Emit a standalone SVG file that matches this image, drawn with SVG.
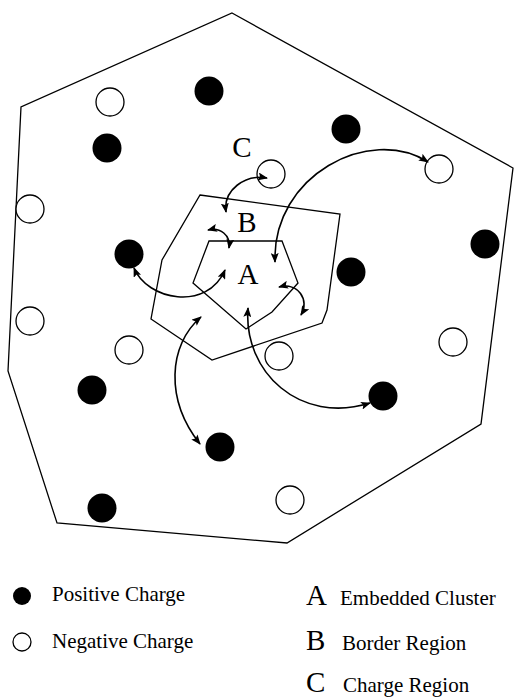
<svg xmlns="http://www.w3.org/2000/svg" width="514" height="698" viewBox="0 0 514 698">
<defs>
<style>
.poly{fill:none;stroke:#000;stroke-width:1.3}
.pos{fill:#000}
.neg{fill:#fff;stroke:#000;stroke-width:1.3}
.arr{fill:none;stroke:#000;stroke-width:1.6;marker-start:url(#ah);marker-end:url(#ah)}
.big{font-family:"Liberation Serif",serif;font-size:29px;fill:#000}
.lg{font-family:"Liberation Serif",serif;font-size:21px;fill:#000}
</style>
<marker id="ah" viewBox="0 0 10 8" refX="9" refY="4" markerWidth="10" markerHeight="8" markerUnits="userSpaceOnUse" orient="auto-start-reverse">
<path d="M0,0 L10,4 L0,8 L2,4 Z" fill="#000"/>
</marker>
</defs>
<rect width="514" height="698" fill="#fff"/>
<g id="regions">
<polygon id="outer" class="poly" points="232,13 513,168 481,424 287,543 57,523 8,371 21,107"/>
<polygon id="regionB" class="poly" points="200,195 340,214 327,310 322,323 212,360 151,319 162,260"/>
<polygon id="regionA" class="poly" points="209,241 282,241 298,283 272,312 246,329 193,283"/>
</g>
<g id="charges">
<circle class="pos" cx="209" cy="91" r="14.5"/>
<circle class="pos" cx="346" cy="129" r="14.5"/>
<circle class="pos" cx="107" cy="148" r="14.5"/>
<circle class="pos" cx="129" cy="254" r="14.5"/>
<circle class="pos" cx="485" cy="244" r="14.5"/>
<circle class="pos" cx="351" cy="272" r="14.5"/>
<circle class="pos" cx="92" cy="390" r="14.5"/>
<circle class="pos" cx="220" cy="447" r="14.5"/>
<circle class="pos" cx="383" cy="396" r="14.5"/>
<circle class="pos" cx="102" cy="508" r="14.5"/>
<circle class="neg" cx="110" cy="102" r="14"/>
<circle class="neg" cx="271" cy="174" r="14"/>
<circle class="neg" cx="439" cy="169" r="14"/>
<circle class="neg" cx="30" cy="209" r="14"/>
<circle class="neg" cx="30" cy="321" r="14"/>
<circle class="neg" cx="129" cy="350" r="14"/>
<circle class="neg" cx="279" cy="356" r="14"/>
<circle class="neg" cx="453" cy="342" r="14"/>
<circle class="neg" cx="290" cy="500" r="14"/>
</g>
<g id="connectors">
<path class="arr" d="M226,212 C223,190 245,174 267,178"/>
<path class="arr" d="M208,230 C220,227 231,235 229,248"/>
<path class="arr" d="M275,262 C272,175 370,125 428,162"/>
<path class="arr" d="M134,268 C147,300 207,312 225,270"/>
<path class="arr" d="M248,308 C243,372 300,425 370,403"/>
<path class="arr" d="M279,287 C298,282 310,300 301,315"/>
<path class="arr" d="M201,317 C168,345 165,400 200,444"/>
</g>
<g id="labels">
<text class="big" x="242" y="157" text-anchor="middle">C</text>
<text class="big" x="247" y="232" text-anchor="middle">B</text>
<text class="big" x="248" y="284" text-anchor="middle">A</text>
</g>
<g id="legend">
<circle class="pos" cx="22" cy="596" r="9"/>
<circle class="neg" cx="22" cy="642" r="9"/>
<text class="lg" x="52" y="601">Positive Charge</text>
<text class="lg" x="52" y="648">Negative Charge</text>
<text class="big" x="306" y="605">A</text>
<text class="lg" x="340" y="605">Embedded Cluster</text>
<text class="big" x="306" y="650">B</text>
<text class="lg" x="342" y="650">Border Region</text>
<text class="big" x="306" y="692">C</text>
<text class="lg" x="343" y="692">Charge Region</text>
</g>
</svg>
